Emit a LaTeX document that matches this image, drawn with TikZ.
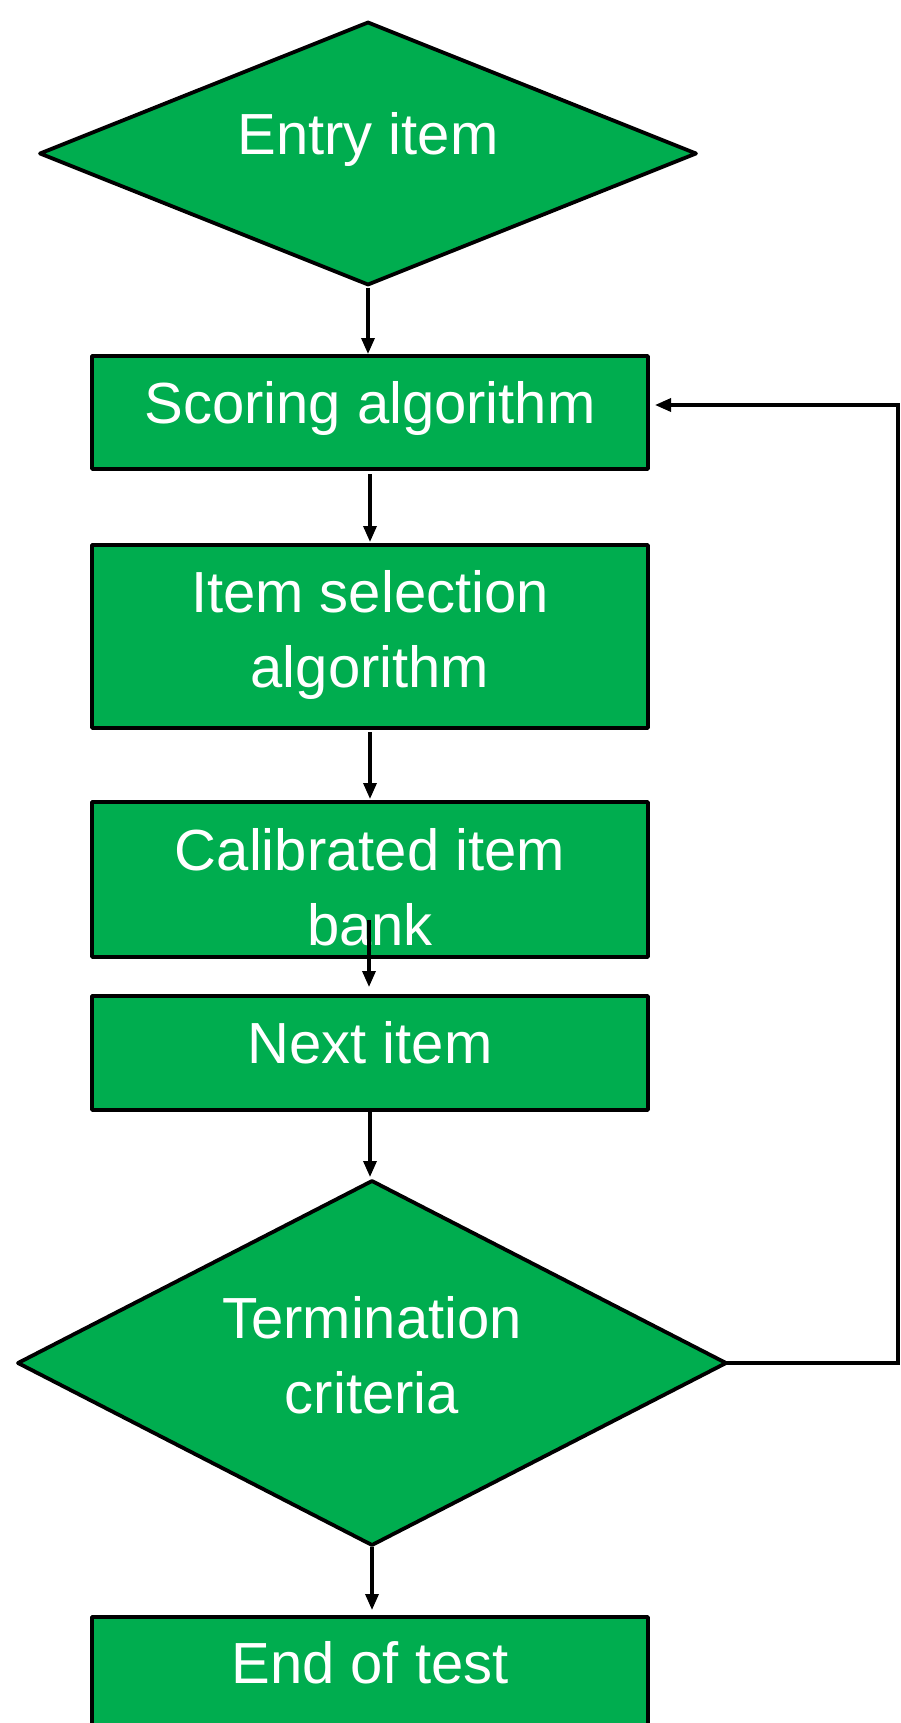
\documentclass[tikz,border=0pt]{standalone}
\usepackage{fontspec}
\setmainfont{Liberation Sans}
\usetikzlibrary{shapes.geometric,arrows.meta}
\definecolor{flowgreen}{RGB}{0,173,79}
\tikzset{
  stepbox/.style={draw=black, fill=flowgreen, line width=3.8pt, line join=round,
    rectangle, inner sep=0pt, outer sep=0pt, minimum width=556pt},
  decision/.style={draw=black, fill=flowgreen, line width=3.8pt, line join=round,
    diamond, inner sep=0pt, outer sep=0pt},
  label/.style={text=white, anchor=base, inner sep=0pt,
    font=\fontsize{58pt}{70pt}\selectfont},
  flow/.style={draw=black, line width=3.3pt,
    -{Triangle[length=16pt,width=13pt]}},
}
\begin{document}
\begin{tikzpicture}[x=1pt,y=-1pt]
\useasboundingbox (0,0) rectangle (901,1723);

% shapes
\node[decision, minimum width=656pt, minimum height=262pt] (entry) at (368,153.5) {};
\node[stepbox, minimum height=113pt] (scoring) at (370,412.5) {};
\node[stepbox, minimum height=183pt] (select) at (370,636.5) {};
\node[stepbox, minimum height=155pt] (bank) at (370,879.5) {};
\node[stepbox, minimum height=114pt] (next) at (370,1053) {};
\node[decision, minimum width=708pt, minimum height=364pt] (term) at (372,1363) {};
\node[stepbox, minimum height=116pt] (end) at (370,1675) {};

% texts
\node[label] (tEntry) at (368,155) {Entry item};
\node[label] (tScoring) at (370,423) {Scoring algorithm};
\node[label] (tSelA) at (370,612) {Item selection};
\node[label] (tSelB) at (370,687) {algorithm};
\node[label] (tBankA) at (370,870) {Calibrated item};
\node[label] (tBankB) at (370,945) {bank};
\node[label] (tNext) at (370,1063) {Next item};
\node[label] (tTermA) at (372,1338) {Termination};
\node[label] (tTermB) at (372,1413) {criteria};
\node[label] (tEnd) at (370,1683) {End of test};

% connectors
\coordinate (bankOut) at (369,920);
\coordinate (loopLow) at (898,1363);
\coordinate (loopHigh) at (898,405);
\coordinate (loopTip) at (655,405);

\draw[flow] ([yshift=-3pt]entry.south) -- ([yshift=2pt]entry.south |- scoring.north);
\draw[flow] ([yshift=-5pt]scoring.south) -- ([yshift=3pt]scoring.north |- select.north);
\draw[flow] ([yshift=-4pt]select.south) -- ([yshift=3pt]select.north |- bank.north);
\draw[flow] (bankOut) -- ([yshift=9pt]bankOut |- next.north);
\draw[flow] ([yshift=-2pt]next.south) -- ([yshift=4pt]next.south |- term.north);
\draw[flow] ([yshift=-2pt]term.south) -- ([yshift=7pt]term.south |- end.north);
\draw[flow, line join=miter] (term.east) -- (loopLow) -- (loopHigh) -- (loopTip);
\end{tikzpicture}
\end{document}
